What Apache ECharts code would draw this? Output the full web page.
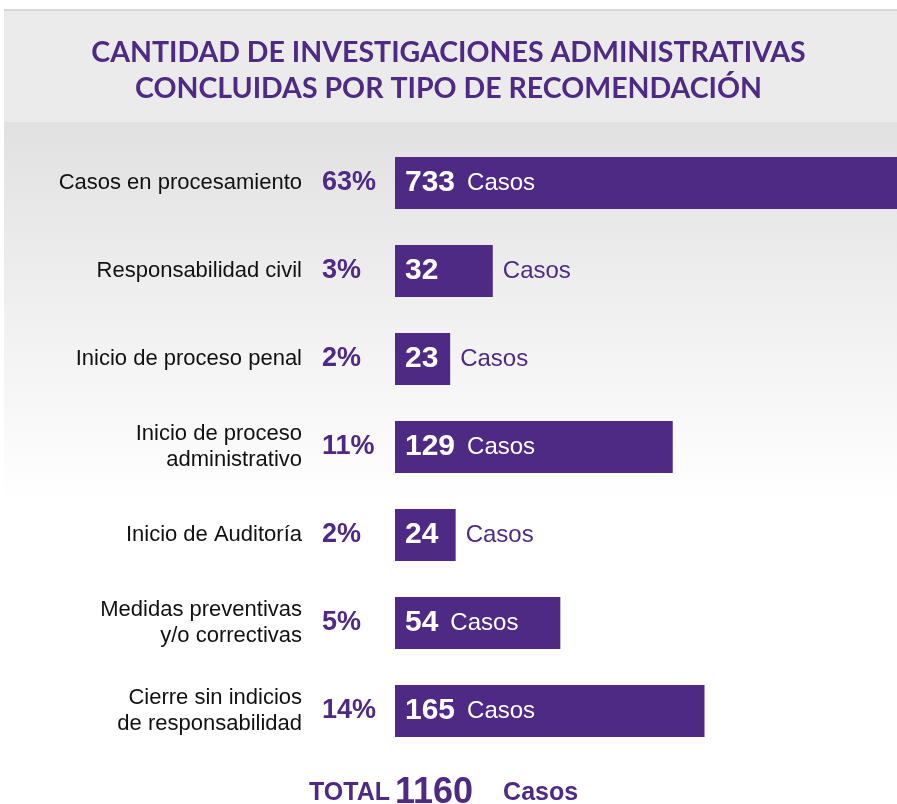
<!DOCTYPE html>
<html>
<head>
<meta charset="utf-8">
<script src="https://cdn.jsdelivr.net/npm/echarts@6/dist/echarts.min.js"></script>
<style>
  html, body { margin: 0; padding: 0; background: #fff; }
  #chart { width: 897px; height: 804px; }
</style>
</head>
<body>
<div id="chart"></div>
<script>
// datos
const categorias = [
  'Casos en procesamiento',
  'Responsabilidad civil',
  'Inicio de proceso penal',
  'Inicio de proceso\nadministrativo',
  'Inicio de Auditoría',
  'Medidas preventivas\ny/o correctivas',
  'Cierre sin indicios\nde responsabilidad'
]
const casos = [733, 32, 23, 129, 24, 54, 165]
const porcentajes = ['63%', '3%', '2%', '11%', '2%', '5%', '14%']
const total = casos.reduce((a, b) => a + b, 0)

const morado = '#4e2a84'

let myChart = echarts.init(document.getElementById('chart'))

myChart.setOption({
  animation: false,
  backgroundColor: '#fff',
  graphic: [
    { type: 'rect', z: -10, shape: { x: 4, y: 9, width: 893, height: 2 }, style: { fill: '#d6d6d6' } },
    { type: 'rect', z: -10, shape: { x: 4, y: 11, width: 893, height: 111 }, style: { fill: '#ebebeb' } },
    {
      type: 'rect', z: -10, shape: { x: 4, y: 122, width: 893, height: 380 },
      style: {
        fill: new echarts.graphic.LinearGradient(0, 0, 0, 1, [
          { offset: 0, color: '#e1e1e1' },
          { offset: 1, color: '#ffffff' }
        ])
      }
    }
  ],
  title: [
    {
      text: 'CANTIDAD DE INVESTIGACIONES ADMINISTRATIVAS\nCONCLUIDAS POR TIPO DE RECOMENDACIÓN',
      left: 'center',
      top: 30,
      textStyle: {
        fontFamily: 'Lato',
        fontWeight: 'bold',
        fontSize: 28.5,
        lineHeight: 36,
        color: morado
      }
    },
    {
      text: '{a|TOTAL} {b|' + total + '}{c|Casos}',
      left: 304,
      top: 770,
      textStyle: {
        rich: {
          a: { fontFamily: 'Liberation Sans', fontWeight: 'bold', fontSize: 25, color: morado },
          b: { fontFamily: 'Liberation Sans', fontWeight: 'bold', fontSize: 36, color: morado },
          c: { fontFamily: 'Liberation Sans', fontWeight: 'bold', fontSize: 25, color: morado, padding: [0, 0, 0, 30] }
        }
      }
    }
  ],
  grid: { left: 395, right: 0, top: 139, bottom: 49, containLabel: false },
  xAxis: {
    type: 'log',
    min: 15,
    max: 733,
    startValue: 15,
    show: false
  },
  yAxis: [
    {
      type: 'category',
      data: categorias,
      inverse: true,
      position: 'left',
      axisLine: { show: false },
      axisTick: { show: false },
      splitLine: { show: false },
      axisLabel: {
        margin: 93,
        align: 'right',
        fontFamily: 'Liberation Sans',
        fontSize: 22,
        lineHeight: 26,
        color: '#111'
      }
    },
    {
      type: 'category',
      data: porcentajes,
      inverse: true,
      position: 'left',
      axisLine: { show: false },
      axisTick: { show: false },
      splitLine: { show: false },
      axisLabel: {
        margin: 73,
        align: 'left',
        fontFamily: 'Liberation Sans',
        fontWeight: 'bold',
        fontSize: 27,
        color: morado
      }
    }
  ],
  series: [
    {
      type: 'bar',
      yAxisIndex: 0,
      data: casos,
      barWidth: 52,
      clip: true,
      silent: true,
      itemStyle: { color: morado },
      label: {
        show: true,
        position: 'insideLeft',
        distance: 10,
        formatter: p => p.value >= 50 ? '{n|' + p.value + '}{c|Casos}' : '{n|' + p.value + '}',
        rich: {
          n: { fontFamily: 'Liberation Sans', fontWeight: 'bold', fontSize: 30, color: '#fff' },
          c: { fontFamily: 'Liberation Sans', fontSize: 24, color: '#fff', padding: [0, 0, 0, 12] }
        }
      }
    },
    {
      // etiqueta "Casos" fuera de las barras cortas
      type: 'bar',
      yAxisIndex: 1,
      data: casos,
      barWidth: 52,
      clip: true,
      silent: true,
      itemStyle: { color: 'rgba(0,0,0,0)' },
      label: {
        show: true,
        position: 'right',
        distance: 10,
        formatter: p => p.value < 50 ? 'Casos' : '',
        fontFamily: 'Liberation Sans',
        fontSize: 24,
        color: morado
      }
    }
  ]
})
</script>
</body>
</html>
